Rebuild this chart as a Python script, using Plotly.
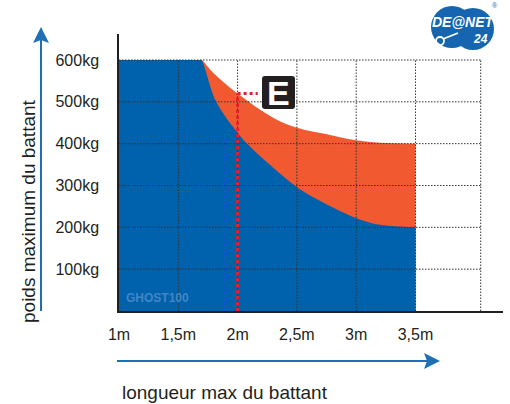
import plotly.graph_objects as go

# ---------------- data ----------------
x_ticks = [1, 1.5, 2, 2.5, 3, 3.5]
x_labels = ["1m", "1,5m", "2m", "2,5m", "3m", "3,5m"]
y_ticks = [100, 200, 300, 400, 500, 600]
y_labels = ["100kg", "200kg", "300kg", "400kg", "500kg", "600kg"]

plateau_len = [1.0, 1.69]
plateau_kg = [600, 600]

# upper limit (orange zone, "E" option)
orange_len = [1.697, 1.8, 2.0, 2.3, 2.5, 2.78, 3.0, 3.2, 3.5]
orange_kg = [600, 568, 520, 462, 438, 421, 408, 402, 400]

# standard limit (blue zone)
blue_len = [1.697, 1.82, 2.0, 2.08, 2.27, 2.48, 2.6, 2.8, 3.0, 3.2, 3.5]
blue_kg = [600, 500, 426, 400, 350, 300, 278, 248, 222, 206, 200]

grid_right = 4.05          # right border of the grid
marker_len = 2.0           # red dotted reference
marker_kg = 520
marker_end = 2.17

BLUE = "#0061AD"
ORANGE = "#F15A31"
TXT = "#231F20"
ARROW = "#1D6FB6"
FONT = "Liberation Sans, Arial, Helvetica, sans-serif"

# plot area in pixels
L, R, T, B = 119, 503, 34, 311
W, H = 510, 404


def pxx(v):
    return (v - L) / (R - L)


def pxy(v):
    return (B - v) / (B - T)


fig = go.Figure()
fig.add_trace(go.Scatter(x=plateau_len + orange_len, y=plateau_kg + orange_kg, mode="lines", fill="tozeroy",
                         fillcolor=ORANGE, line=dict(color=ORANGE, width=0, shape="spline", smoothing=1),
                         hoverinfo="skip", showlegend=False))
fig.add_trace(go.Scatter(x=plateau_len + blue_len, y=plateau_kg + blue_kg, mode="lines", fill="tozeroy",
                         fillcolor=BLUE, line=dict(color=BLUE, width=0, shape="spline", smoothing=1),
                         hoverinfo="skip", showlegend=False))

shapes = []
GRID = dict(color="#333333", width=1, dash="1.5px,1.5px")
for xv in x_ticks[1:] + [grid_right]:
    shapes.append(dict(type="line", xref="x", yref="y", x0=xv, x1=xv, y0=0, y1=max(y_ticks),
                       line=GRID, layer="above"))
for yv in y_ticks:
    shapes.append(dict(type="line", xref="x", yref="y", x0=min(x_ticks), x1=grid_right, y0=yv, y1=yv,
                       line=GRID, layer="above"))

# red dotted reference
RED = dict(color="#E3212B", width=3, dash="3px,3px")
shapes.append(dict(type="line", xref="x", yref="y", x0=marker_len, x1=marker_len, y0=0, y1=marker_kg,
                   line=RED, layer="above"))
shapes.append(dict(type="line", xref="x", yref="y", x0=marker_len, x1=marker_end, y0=marker_kg, y1=marker_kg,
                   line=RED, layer="above"))

# "E" box (rounded)
bx0, bx1, by0, by1 = pxx(262), pxx(295), pxy(109), pxy(76)
rx, ry = 3 / (R - L), 3 / (B - T)
path = (f"M {bx0+rx},{by0} L {bx1-rx},{by0} Q {bx1},{by0} {bx1},{by0+ry} "
        f"L {bx1},{by1-ry} Q {bx1},{by1} {bx1-rx},{by1} L {bx0+rx},{by1} "
        f"Q {bx0},{by1} {bx0},{by1-ry} L {bx0},{by0+ry} Q {bx0},{by0} {bx0+rx},{by0} Z")
shapes.append(dict(type="path", xref="paper", yref="paper", path=path,
                   fillcolor=TXT, line=dict(width=0), layer="above"))

# axis arrows
shapes.append(dict(type="line", xref="paper", yref="paper", x0=pxx(41), x1=pxx(41),
                   y0=pxy(311), y1=pxy(40), line=dict(color=ARROW, width=2)))
shapes.append(dict(type="path", xref="paper", yref="paper",
                   path=f"M {pxx(33)},{pxy(43)} L {pxx(41)},{pxy(27)} L {pxx(49)},{pxy(43)} L {pxx(41)},{pxy(40)} Z",
                   fillcolor=ARROW, line=dict(width=0)))
shapes.append(dict(type="line", xref="paper", yref="paper", x0=pxx(117), x1=pxx(428),
                   y0=pxy(361), y1=pxy(361), line=dict(color=ARROW, width=2)))
shapes.append(dict(type="path", xref="paper", yref="paper",
                   path=f"M {pxx(424)},{pxy(353)} L {pxx(440)},{pxy(361)} L {pxx(424)},{pxy(369)} L {pxx(427)},{pxy(361)} Z",
                   fillcolor=ARROW, line=dict(width=0)))

# logo
LOGO = "#1565B0"
shapes.append(dict(type="circle", xref="paper", yref="paper", x0=pxx(431), x1=pxx(473),
                   y0=pxy(48), y1=pxy(6), fillcolor=LOGO, line=dict(width=0)))
shapes.append(dict(type="circle", xref="paper", yref="paper", x0=pxx(452), x1=pxx(494),
                   y0=pxy(50), y1=pxy(8), fillcolor=LOGO, line=dict(width=0)))
shapes.append(dict(type="circle", xref="paper", yref="paper", x0=pxx(436), x1=pxx(444),
                   y0=pxy(45), y1=pxy(37), line=dict(color="white", width=1.8)))
shapes.append(dict(type="line", xref="paper", yref="paper", x0=pxx(443), x1=pxx(458),
                   y0=pxy(39), y1=pxy(33), line=dict(color="white", width=1.8)))

annotations = [
    dict(text="E", x=(bx0 + bx1) / 2, y=(by0 + by1) / 2, xref="paper", yref="paper",
         showarrow=False, font=dict(family=FONT, size=34, color="white", weight="bold"),
         xanchor="center", yanchor="middle"),
    dict(text="GHOST100", x=pxx(124), y=pxy(298), xref="paper", yref="paper",
         showarrow=False, font=dict(family=FONT, size=12, color="#4386C4", weight="bold"),
         xanchor="left", yanchor="middle"),
    dict(text="poids maximum du battant", x=pxx(28), y=pxy(211), xref="paper", yref="paper",
         showarrow=False, textangle=-90, font=dict(family=FONT, size=19, color=TXT),
         xanchor="center", yanchor="middle"),
    dict(text="longueur max du battant", x=pxx(225), y=pxy(392), xref="paper", yref="paper",
         showarrow=False, font=dict(family=FONT, size=19, color=TXT),
         xanchor="center", yanchor="middle"),
    dict(text="<i><b>DE@NET</b></i>", x=pxx(463), y=pxy(22), xref="paper", yref="paper",
         showarrow=False, font=dict(family=FONT, size=14, color="white"),
         xanchor="center", yanchor="middle"),
    dict(text="<i><b>24</b></i>", x=pxx(480), y=pxy(39), xref="paper", yref="paper",
         showarrow=False, font=dict(family=FONT, size=12, color="white"),
         xanchor="center", yanchor="middle"),
    dict(text="®", x=pxx(495), y=pxy(6), xref="paper", yref="paper",
         showarrow=False, font=dict(family=FONT, size=7, color=LOGO),
         xanchor="center", yanchor="middle"),
]

x_span = (max(x_ticks) - min(x_ticks)) / (415.5 - L)  # data units per pixel
y_span = max(y_ticks) / (B - 60)

fig.update_layout(
    width=W, height=H, autosize=False,
    margin=dict(l=L, r=W - R, t=T, b=H - B, pad=0),
    paper_bgcolor="white", plot_bgcolor="white",
    shapes=shapes, annotations=annotations,
    xaxis=dict(range=[min(x_ticks), min(x_ticks) + (R - L) * x_span],
               tickvals=x_ticks, ticktext=x_labels, showgrid=False, zeroline=False,
               showline=True, linecolor=TXT, linewidth=2, ticks="",
               ticklabelstandoff=8, tickfont=dict(family=FONT, size=16, color=TXT), fixedrange=True),
    yaxis=dict(range=[0, (B - T) * y_span],
               tickvals=y_ticks, ticktext=y_labels, showgrid=False, zeroline=False,
               showline=True, linecolor=TXT, linewidth=1.5, ticks="",
               ticklabelstandoff=15, tickfont=dict(family=FONT, size=16, color=TXT), fixedrange=True),
    font=dict(family=FONT, color=TXT),
)

fig.write_html("out.html", config={"displayModeBar": False},
               post_script="document.body.style.margin='0';document.body.style.overflow='hidden';")
